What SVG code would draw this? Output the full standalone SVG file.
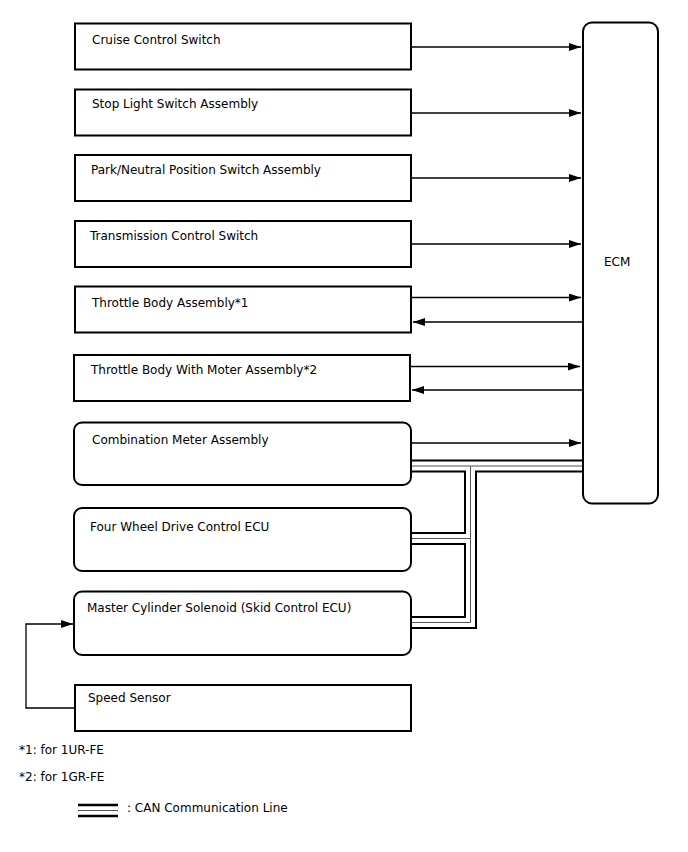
<svg xmlns="http://www.w3.org/2000/svg" width="688" height="852" viewBox="0 0 688 852">
<defs>
<style>
.box{fill:#fff;stroke:#000;stroke-width:2}
.t{font-family:"DejaVu Sans",sans-serif;font-size:12px;fill:#000}
.w{fill:none;stroke:#000;stroke-width:1.3}
.c1{fill:none;stroke:#000;stroke-width:13;stroke-linejoin:miter}
.c2{fill:none;stroke:#fff;stroke-width:9;stroke-linejoin:miter}
.c3{fill:none;stroke:#555;stroke-width:1}
</style>
<marker id="ah" markerUnits="userSpaceOnUse" markerWidth="12" markerHeight="8" refX="12" refY="4" orient="auto">
<path d="M0,0 L12,4 L0,8 z" fill="#000"/>
</marker>
</defs>
<rect width="688" height="852" fill="#fff"/>

<g id="connectors">
<line class="w" x1="411" y1="47" x2="581" y2="47" marker-end="url(#ah)"/>
<line class="w" x1="411" y1="113" x2="581" y2="113" marker-end="url(#ah)"/>
<line class="w" x1="411" y1="178" x2="581" y2="178" marker-end="url(#ah)"/>
<line class="w" x1="411" y1="244" x2="581" y2="244" marker-end="url(#ah)"/>
<line class="w" x1="411" y1="297.5" x2="581" y2="297.5" marker-end="url(#ah)"/>
<line class="w" x1="583" y1="322" x2="413" y2="322" marker-end="url(#ah)"/>
<line class="w" x1="410" y1="366.5" x2="580" y2="366.5" marker-end="url(#ah)"/>
<line class="w" x1="583" y1="390" x2="412" y2="390" marker-end="url(#ah)"/>
<line class="w" x1="411" y1="443" x2="581" y2="443" marker-end="url(#ah)"/>
<polyline class="w" points="75,708 26,708 26,624 73,624" marker-end="url(#ah)"/>
<g id="can">
<path class="c1" d="M583,466 H470.5 V622.5 H411 M470.5,466 H411 M470.5,538.5 H411"/>
<path class="c2" d="M583,466 H470.5 V622.5 H411 M470.5,466 H411 M470.5,538.5 H411"/>
<path class="c3" d="M583,466 H470.5 V622.5 H411 M470.5,466 H411 M470.5,538.5 H411"/>
</g>
</g>

<g id="n-cruise"><rect class="box" x="75" y="23.5" width="336" height="46"/><text class="t" x="92" y="44">Cruise Control Switch</text></g>
<g id="n-stop"><rect class="box" x="75" y="89.5" width="336" height="46"/><text class="t" x="92" y="108">Stop Light Switch Assembly</text></g>
<g id="n-park"><rect class="box" x="75" y="155" width="336" height="46"/><text class="t" x="91" y="174">Park/Neutral Position Switch Assembly</text></g>
<g id="n-trans"><rect class="box" x="75" y="221" width="336" height="46"/><text class="t" x="90" y="240">Transmission Control Switch</text></g>
<g id="n-tb1"><rect class="box" x="75" y="286.5" width="336" height="46"/><text class="t" x="92" y="307">Throttle Body Assembly*1</text></g>
<g id="n-tb2"><rect class="box" x="74" y="355" width="336" height="46"/><text class="t" x="91" y="374">Throttle Body With Moter Assembly*2</text></g>
<g id="n-comb"><rect class="box" x="74" y="422.5" width="337" height="62.5" rx="8"/><text class="t" x="92" y="444">Combination Meter Assembly</text></g>
<g id="n-4wd"><rect class="box" x="74" y="508" width="337" height="63" rx="8"/><text class="t" x="90" y="531">Four Wheel Drive Control ECU</text></g>
<g id="n-mcs"><rect class="box" x="74" y="591.5" width="337" height="63.5" rx="8"/><text class="t" x="87" y="612">Master Cylinder Solenoid (Skid Control ECU)</text></g>
<g id="n-speed"><rect class="box" x="75" y="685" width="336" height="46"/><text class="t" x="88" y="702">Speed Sensor</text></g>
<g id="n-ecm"><rect class="box" x="583" y="22.5" width="75" height="481" rx="9"/><text class="t" x="604" y="266">ECM</text></g>

<g id="notes">
<text class="t" x="19" y="754">*1: for 1UR-FE</text>
<text class="t" x="19" y="781">*2: for 1GR-FE</text>
<line x1="78" y1="805" x2="118" y2="805" stroke="#000" stroke-width="2.5"/>
<line x1="78" y1="810.5" x2="118" y2="810.5" stroke="#555" stroke-width="1"/>
<line x1="78" y1="816" x2="118" y2="816" stroke="#000" stroke-width="2.5"/>
<text class="t" x="127" y="812">: CAN Communication Line</text>
</g>
</svg>
